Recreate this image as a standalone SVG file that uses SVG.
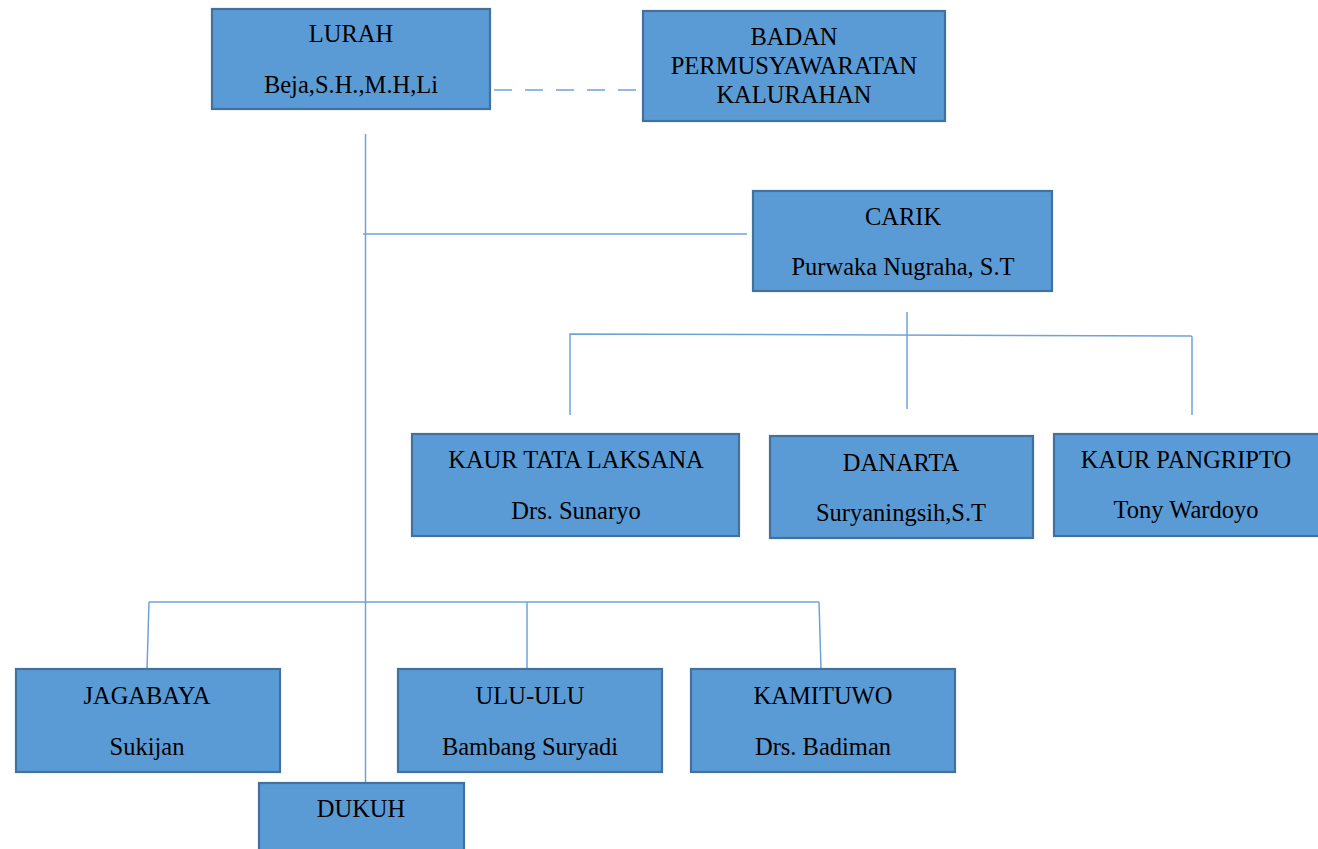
<svg xmlns="http://www.w3.org/2000/svg" width="1318" height="849" viewBox="0 0 1318 849">
<style>
.box{fill:#5b9bd5;stroke:#41719c;stroke-width:2.2}
.t{font-family:"Liberation Serif","Times New Roman",serif;font-size:24.5px;fill:#000;text-anchor:middle}
.ln{stroke:#6fa3d8;stroke-width:1.5;fill:none}
</style>
<rect width="1318" height="849" fill="#fff"/>
<g id="connectors">
<line class="ln" x1="494" y1="90" x2="640" y2="90" stroke-dasharray="18,13"/>
<line class="ln" x1="365.5" y1="134" x2="365.5" y2="783"/>
<line class="ln" x1="363" y1="234" x2="747" y2="234"/>
<line class="ln" x1="907" y1="312" x2="907" y2="409"/>
<polyline class="ln" points="570,415 570,334 1191,336 1192,337 1192,415"/>
<line class="ln" x1="149" y1="602" x2="819" y2="602"/>
<line class="ln" x1="149" y1="602" x2="147" y2="669"/>
<line class="ln" x1="527" y1="602" x2="527" y2="669"/>
<line class="ln" x1="819" y1="602" x2="821" y2="669"/>
</g>
<g id="lurah">
<rect class="box" x="212" y="9" width="278" height="100"/>
<text class="t" x="351" y="42">LURAH</text>
<text class="t" x="351" y="93">Beja,S.H.,M.H,Li</text>
</g>
<g id="badan">
<rect class="box" x="643" y="11" width="302" height="110"/>
<text class="t" x="794" y="45">BADAN</text>
<text class="t" x="794" y="74">PERMUSYAWARATAN</text>
<text class="t" x="794" y="103">KALURAHAN</text>
</g>
<g id="carik">
<rect class="box" x="753" y="191" width="299" height="100"/>
<text class="t" x="903" y="225">CARIK</text>
<text class="t" x="903" y="275">Purwaka Nugraha, S.T</text>
</g>
<g id="kaur-tata-laksana">
<rect class="box" x="412" y="434" width="327" height="102"/>
<text class="t" x="576" y="468">KAUR TATA LAKSANA</text>
<text class="t" x="576" y="519">Drs. Sunaryo</text>
</g>
<g id="danarta">
<rect class="box" x="770" y="436" width="263" height="102"/>
<text class="t" x="901" y="471">DANARTA</text>
<text class="t" x="901" y="521">Suryaningsih,S.T</text>
</g>
<g id="kaur-pangripto">
<rect class="box" x="1054" y="434" width="266" height="102"/>
<text class="t" x="1186" y="468">KAUR PANGRIPTO</text>
<text class="t" x="1186" y="518">Tony Wardoyo</text>
</g>
<g id="jagabaya">
<rect class="box" x="16" y="669" width="264" height="103"/>
<text class="t" x="147" y="704">JAGABAYA</text>
<text class="t" x="147" y="755">Sukijan</text>
</g>
<g id="ulu-ulu">
<rect class="box" x="398" y="669" width="264" height="103"/>
<text class="t" x="530" y="704">ULU-ULU</text>
<text class="t" x="530" y="755">Bambang Suryadi</text>
</g>
<g id="kamituwo">
<rect class="box" x="691" y="669" width="264" height="103"/>
<text class="t" x="823" y="704">KAMITUWO</text>
<text class="t" x="823" y="755">Drs. Badiman</text>
</g>
<g id="dukuh">
<rect class="box" x="259" y="783" width="205" height="80"/>
<text class="t" x="361" y="817">DUKUH</text>
</g>
</svg>
